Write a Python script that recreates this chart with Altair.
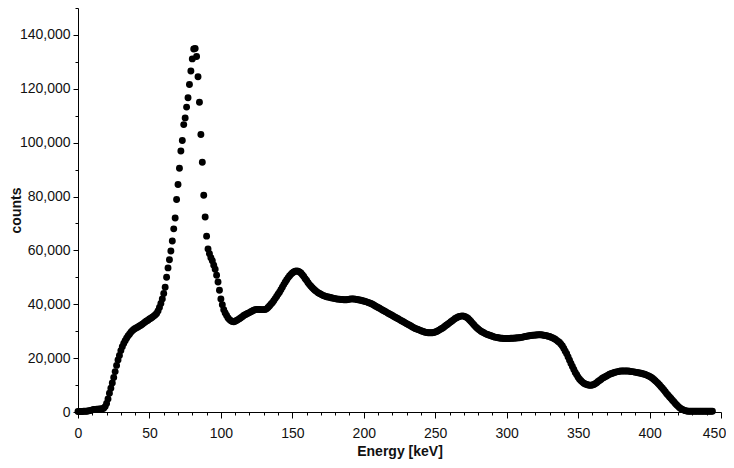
import altair as alt
import pandas as pd

# counts (in thousands) per 1 keV channel
R000 = [0.2, 0.2, 0.2, 0.2, 0.3, 0.3, 0.3, 0.4, 0.5, 0.6]
R010 = [0.8, 0.9, 0.9, 1.0, 1.0, 1.1, 1.1, 1.2, 1.4, 2.0]
R020 = [3.2, 4.8, 7.0, 8.8, 10.8, 12.8, 15.0, 17.3, 19.3, 21.0]
R030 = [22.8, 24.2, 25.4, 26.5, 27.4, 28.2, 28.9, 29.6, 30.2, 30.6]
R040 = [31.0, 31.3, 31.6, 31.9, 32.2, 32.6, 33.0, 33.4, 33.8, 34.1]
R050 = [34.5, 34.8, 35.2, 35.6, 36.0, 36.6, 37.5, 38.8, 40.3, 42.0]
R060 = [44.0, 46.3, 50.0, 53.5, 56.5, 59.8, 63.5, 68.0, 72.0, 78.9]
R070 = [84.5, 90.5, 96.9, 100.8, 106.7, 109.2, 113.2, 116.7, 121.6, 126.6]
R080 = [131.1, 134.8, 135.0, 132.0, 124.5, 115.0, 103.0, 92.7, 80.5, 72.4]
R090 = [65.3, 60.5, 58.8, 57.3, 56.2, 54.5, 53.0, 50.8, 48.3, 45.2]
R100 = [42.0, 39.8, 38.0, 36.8, 35.8, 34.9, 34.3, 33.9, 33.6, 33.5]
R110 = [33.7, 34.0, 34.3, 34.6, 35.0, 35.4, 35.8, 36.1, 36.4, 36.7]
R120 = [36.9, 37.2, 37.5, 37.8, 38.0, 38.1, 38.1, 38.1, 38.0, 38.0]
R130 = [38.0, 38.1, 38.3, 38.8, 39.4, 40.0, 40.6, 41.3, 42.1, 42.9]
R140 = [43.7, 44.5, 45.4, 46.3, 47.3, 48.2, 49.0, 49.8, 50.5, 51.1]
R150 = [51.6, 52.0, 52.3, 52.4, 52.3, 52.0, 51.6, 51.0, 50.3, 49.5]
R160 = [48.8, 48.0, 47.3, 46.7, 46.1, 45.6, 45.1, 44.7, 44.3, 44.0]
R170 = [43.7, 43.4, 43.2, 43.0, 42.8, 42.7, 42.6, 42.4, 42.3, 42.2]
R180 = [42.1, 42.0, 41.9, 41.9, 41.8, 41.8, 41.7, 41.7, 41.7, 41.8]
R190 = [41.9, 42.0, 42.0, 42.0, 41.9, 41.8, 41.7, 41.6, 41.5, 41.3]
R200 = [41.2, 41.0, 40.9, 40.7, 40.5, 40.3, 40.0, 39.7, 39.4, 39.1]
R210 = [38.8, 38.5, 38.2, 37.9, 37.6, 37.3, 37.0, 36.7, 36.4, 36.1]
R220 = [35.8, 35.5, 35.2, 34.9, 34.6, 34.3, 34.0, 33.7, 33.4, 33.1]
R230 = [32.8, 32.5, 32.2, 31.9, 31.6, 31.3, 31.0, 30.8, 30.6, 30.4]
R240 = [30.2, 30.0, 29.8, 29.6, 29.5, 29.4, 29.4, 29.4, 29.4, 29.5]
R250 = [29.7, 29.9, 30.2, 30.5, 30.8, 31.1, 31.5, 31.9, 32.3, 32.7]
R260 = [33.1, 33.5, 33.9, 34.3, 34.7, 35.0, 35.3, 35.5, 35.6, 35.7]
R270 = [35.6, 35.4, 35.1, 34.7, 34.2, 33.6, 33.0, 32.4, 31.8, 31.3]
R280 = [30.8, 30.4, 30.0, 29.7, 29.4, 29.1, 28.9, 28.7, 28.5, 28.3]
R290 = [28.1, 27.9, 27.8, 27.7, 27.6, 27.5, 27.4, 27.4, 27.3, 27.3]
R300 = [27.3, 27.3, 27.3, 27.4, 27.4, 27.4, 27.5, 27.5, 27.6, 27.6]
R310 = [27.7, 27.8, 27.9, 28.0, 28.1, 28.2, 28.3, 28.4, 28.5, 28.5]
R320 = [28.6, 28.6, 28.7, 28.7, 28.7, 28.6, 28.5, 28.4, 28.3, 28.1]
R330 = [28.0, 27.8, 27.6, 27.3, 27.0, 26.6, 26.2, 25.8, 25.2, 24.5]
R340 = [23.6, 22.6, 21.6, 20.4, 19.2, 18.0, 16.9, 15.8, 14.7, 13.8]
R350 = [12.9, 12.2, 11.6, 11.1, 10.7, 10.4, 10.2, 10.0, 9.9, 9.9]
R360 = [10.0, 10.2, 10.5, 10.9, 11.3, 11.7, 12.1, 12.5, 12.8, 13.1]
R370 = [13.4, 13.7, 14.0, 14.2, 14.4, 14.6, 14.8, 14.9, 15.0, 15.1]
R380 = [15.2, 15.2, 15.2, 15.2, 15.2, 15.2, 15.1, 15.0, 15.0, 14.9]
R390 = [14.8, 14.7, 14.6, 14.5, 14.4, 14.2, 14.1, 13.9, 13.7, 13.5]
R400 = [13.2, 12.9, 12.5, 12.1, 11.6, 11.1, 10.6, 10.0, 9.4, 8.8]
R410 = [8.2, 7.5, 6.8, 6.2, 5.6, 5.0, 4.4, 3.8, 3.2, 2.6]
R420 = [2.1, 1.6, 1.2, 0.9, 0.7, 0.5, 0.4, 0.3, 0.3, 0.3]
R430 = [0.3, 0.3, 0.3, 0.3, 0.3, 0.3, 0.3, 0.3, 0.3, 0.3]
R440 = [0.3, 0.3, 0.3, 0.3, 0.3]

COUNTS_K = (R000 + R010 + R020 + R030 + R040 + R050 + R060 + R070 + R080 + R090
            + R100 + R110 + R120 + R130 + R140 + R150 + R160 + R170 + R180 + R190
            + R200 + R210 + R220 + R230 + R240 + R250 + R260 + R270 + R280 + R290
            + R300 + R310 + R320 + R330 + R340 + R350 + R360 + R370 + R380 + R390
            + R400 + R410 + R420 + R430 + R440)
ENERGY_KEV = list(range(len(COUNTS_K)))

X_TICKS = list(range(0, 451, 10))
Y_TICKS = list(range(0, 150001, 10000))

df = pd.DataFrame({"energy": ENERGY_KEV, "counts": [v * 1000 for v in COUNTS_K]})

FONT = "Liberation Sans"

x_axis = alt.Axis(
    title="Energy [keV]",
    values=X_TICKS,
    format="d",
    labelExpr="datum.value % 50 === 0 ? datum.label : ''",
    labelOverlap=False,
    labelFlush=False,
    labelFont=FONT,
    labelFontSize=14,
    labelColor="#111111",
    labelPadding=8,
    labelOffset={"condition": {"test": "datum.value === 450", "value": -7}, "value": 0},
    tickSize={"condition": {"test": "datum.value % 50 === 0", "value": 6}, "value": 3},
    tickColor="black",
    domainColor="black",
    grid=False,
    titleFont=FONT,
    titleFontSize=14,
    titleFontWeight="bold",
    titleColor="#111111",
    titleBaseline="alphabetic",
    titleY=43,
)

y_axis = alt.Axis(
    title="counts",
    values=Y_TICKS,
    format=",d",
    labelExpr="datum.value % 20000 === 0 ? datum.label : ''",
    labelOverlap=False,
    labelFlush=False,
    labelFont=FONT,
    labelFontSize=14,
    labelColor="#111111",
    labelPadding=3,
    tickSize={"condition": {"test": "datum.value % 20000 === 0", "value": 5}, "value": 3},
    tickColor="black",
    domainColor="black",
    grid=False,
    titleFont=FONT,
    titleFontSize=14,
    titleFontWeight="bold",
    titleColor="#111111",
    titleBaseline="alphabetic",
    titleX=-58,
)

chart = (
    alt.Chart(df)
    .mark_circle(size=48, color="black", opacity=1)
    .encode(
        x=alt.X("energy:Q", scale=alt.Scale(domain=[0, 450], nice=False, zero=True), axis=x_axis),
        y=alt.Y("counts:Q", scale=alt.Scale(domain=[0, 150000], nice=False), axis=y_axis),
    )
    .properties(
        width=643,
        height=404,
        autosize=alt.AutoSizeParams(type="none"),
        padding={"left": 70, "top": 0, "right": 5, "bottom": 48},
        background="white",
    )
    .configure_view(stroke=None)
)

chart.save("out.html", embed_options={"renderer": "svg", "actions": False})
